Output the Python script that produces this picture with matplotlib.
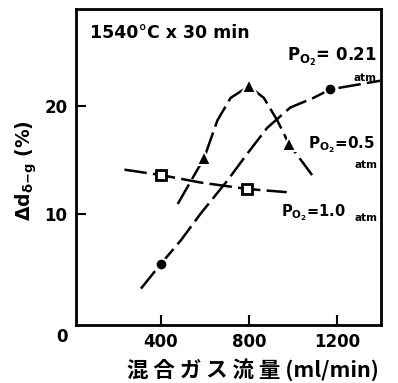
import matplotlib
matplotlib.use('Agg')
import matplotlib.pyplot as plt
import numpy as np

plt.rcParams['font.family'] = ['DejaVu Sans']
plt.rcParams['font.weight'] = 'bold'
plt.rcParams['mathtext.default'] = 'regular'

# measured points (ml/min, %)
flow_021 = [400, 1170]
val_021 = [5.3, 21.6]
flow_05 = [597, 800, 982]
val_05 = [15.2, 21.9, 16.5]
flow_10 = [400, 793]
val_10 = [13.6, 12.3]

# hand drawn curves
curve_021_x = [310, 400, 491, 581, 703, 793, 883, 988, 1093, 1170, 1396]
curve_021_y = [3.0, 5.3, 7.5, 10.0, 13.1, 15.6, 18.0, 19.9, 20.8, 21.6, 22.4]
curve_05_x = [477, 597, 657, 717, 800, 868, 929, 982, 1087]
curve_05_y = [10.9, 15.2, 18.7, 20.8, 21.9, 20.8, 18.7, 16.5, 13.6]
curve_10_x = [235, 400, 581, 793, 972]
curve_10_y = [14.1, 13.6, 12.9, 12.3, 12.0]

xticks = [400, 800, 1200]
yticks = [10, 20]

fig = plt.figure(figsize=(3.98, 3.83), dpi=100)
ax = fig.add_axes([76/398., 58/383., 305/398., 316/383.])

for cx, cy in [(curve_021_x, curve_021_y), (curve_05_x, curve_05_y), (curve_10_x, curve_10_y)]:
    l, = ax.plot(cx, cy, color='black', lw=1.8, solid_capstyle='butt')
    l.set_dashes([9, 2.5])

ax.plot(flow_021, val_021, 'o', color='black', ms=8.5, mec='white', mew=1.5)
ax.plot(flow_05, val_05, '^', color='black', ms=10, mec='white', mew=1.5)
ax.plot(flow_10, val_10, 's', mfc='white', mec='black', ms=6.5, mew=2)

ax.set_xlim(15, 1400); ax.set_ylim(-0.4, 29.1)
ax.set_xticks(xticks); ax.set_yticks(yticks)
ax.tick_params(direction='in', length=7, width=1.5, labelsize=12, pad=6)
for s in ax.spines.values(): s.set_linewidth(2)
ax.text(-0.046, -0.038, '0', transform=ax.transAxes, ha='center', va='center', fontsize=12)

ax.text(0.045, 0.925, '1540°C x 30 min', transform=ax.transAxes, fontsize=12.5, va='center')
ax.text(975, 24.6, '$P_{O_2}$= 0.21', fontsize=12, va='center')
ax.text(1328, 22.7, 'atm', fontsize=7.5, va='center', ha='center')
ax.text(1070, 16.4, '$P_{O_2}$=0.5', fontsize=11, va='center')
ax.text(1332, 14.5, 'atm', fontsize=7.5, va='center', ha='center')
ax.text(945, 10.1, '$P_{O_2}$=1.0', fontsize=10.5, va='center')
ax.text(1334, 9.6, 'atm', fontsize=7.5, va='center', ha='center')

fig.text(253/398., 1-370/383., '混 合 ガ ス 流 量 (ml/min)', ha='center', va='center',
         fontsize=15.5, family=['Noto Sans CJK JP', 'DejaVu Sans'], weight='bold')
fig.text(26/398., 1-171/383., r'$\Delta d_{\delta\mathrm{-}g}$ (%)', rotation=90,
         ha='center', va='center', fontsize=13.5)

plt.savefig('out.png')
